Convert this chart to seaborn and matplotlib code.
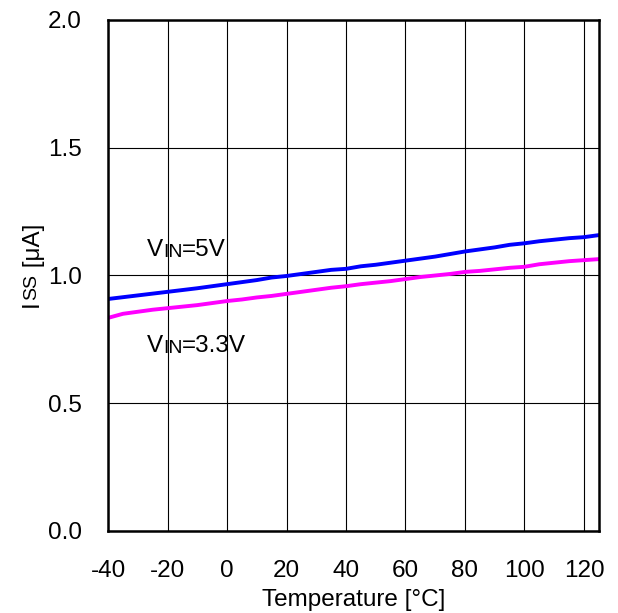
import matplotlib
matplotlib.use("Agg")
import matplotlib.pyplot as plt
import seaborn as sns
import pandas as pd

temperature = [-40, -35, -30, -25, -20, -15, -10, -5, 0, 5, 10, 15, 20, 25, 30, 35, 40, 45,
               50, 55, 60, 65, 70, 75, 80, 85, 90, 95, 100, 105, 110, 115, 120, 125]
iss_5v = [0.908, 0.915, 0.922, 0.929, 0.936, 0.943, 0.950, 0.958, 0.966, 0.974, 0.982, 0.992,
          0.998, 1.006, 1.014, 1.022, 1.026, 1.036, 1.042, 1.050, 1.058, 1.066, 1.074, 1.084,
          1.094, 1.102, 1.110, 1.120, 1.126, 1.134, 1.140, 1.146, 1.150, 1.158]
iss_33v = [0.834, 0.850, 0.858, 0.866, 0.872, 0.878, 0.884, 0.892, 0.900, 0.906, 0.914, 0.920,
           0.928, 0.936, 0.944, 0.952, 0.958, 0.966, 0.972, 0.978, 0.986, 0.994, 1.000, 1.006,
           1.014, 1.018, 1.024, 1.030, 1.034, 1.044, 1.050, 1.056, 1.060, 1.064]
x_ticks = [-40, -20, 0, 20, 40, 60, 80, 100, 120]
y_ticks = [0.0, 0.5, 1.0, 1.5, 2.0]
y_tick_labels = ["0.0", "0.5", "1.0", "1.5", "2.0"]

df = pd.DataFrame({
    "T": temperature * 2,
    "I": iss_5v + iss_33v,
    "s": ["5V"] * len(temperature) + ["3.3V"] * len(temperature),
})

sns.set_theme(style="white")
plt.rcParams['font.family'] = ['Liberation Sans', 'DejaVu Sans']
plt.rcParams['axes.unicode_minus'] = False

FS = 17.5
FS_SMALL = 14

fig = plt.figure(figsize=(6.18, 6.13), dpi=100)
ax = fig.add_axes([0.1748, 0.1338, 0.969 - 0.1748, 0.9674 - 0.1338])

sns.lineplot(data=df, x="T", y="I", hue="s", palette={"5V": "#0000ff", "3.3V": "#ff00ff"},
             linewidth=2.8, legend=False, ax=ax)

ax.set_xlim(-40, 125)
ax.set_ylim(0, 2.0)
ax.set_xticks(x_ticks)
ax.set_yticks(y_ticks)
ax.set_yticklabels(y_tick_labels)
ax.tick_params(axis="both", length=0, labelsize=FS, colors="black")
ax.tick_params(axis="x", pad=21)
ax.tick_params(axis="y", pad=19)
ax.grid(True, color="black", linewidth=0.8)
ax.set_axisbelow(True)
for sp in ax.spines.values():
    sp.set_color("black")
    sp.set_linewidth(1.8)

ax.set_xlabel("Temperature [°C]", fontsize=FS, color="black", labelpad=5)
ax.set_ylabel("")

# Y label: I + small SS + [μA]
yl1 = fig.text(0.051, (613 - 307) / 613, "I", rotation=90, fontsize=FS, color="black",
               va="bottom", ha="center")
fig.canvas.draw()
t_ss = ax.annotate("SS", xy=(0.5, 1), xycoords=yl1, rotation=90, fontsize=FS_SMALL,
                   color="black", va="bottom", ha="center", annotation_clip=False)
fig.canvas.draw()
ax.annotate(" [μA]", xy=(0, 1), xycoords=t_ss, rotation=90, fontsize=FS, color="black",
            va="bottom", ha="left", annotation_clip=False)


def label(x, y, rest):
    t1 = ax.text(x, y, "V", fontsize=FS, color="black", va="baseline", ha="left")
    fig.canvas.draw()
    t2 = ax.annotate("IN", xy=(1, 0), xycoords=t1, fontsize=FS_SMALL, color="black",
                     va="bottom", ha="left")
    fig.canvas.draw()
    ax.annotate(rest, xy=(1, 0), xycoords=t2, fontsize=FS, color="black",
                va="bottom", ha="left")


label(-27, 1.075, "=5V")
label(-27, 0.70, "=3.3V")

fig.savefig("out.png", dpi=100)
